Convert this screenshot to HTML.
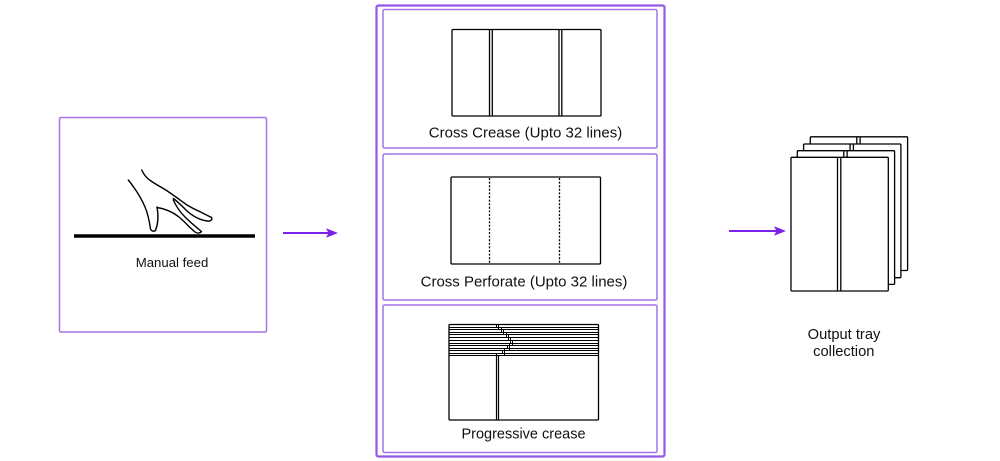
<!DOCTYPE html>
<html>
<head>
<meta charset="utf-8">
<style>
  html,body{margin:0;padding:0;background:#fff;}
  svg{display:block;}
  text{font-family:"Liberation Sans",Arial,sans-serif;fill:#111;}
</style>
</head>
<body>
<svg width="1000" height="461" viewBox="0 0 1000 461" xmlns="http://www.w3.org/2000/svg">
  <rect x="0" y="0" width="1000" height="461" fill="#fff"/>

  <!-- Left box: Manual feed -->
  <rect x="59.5" y="117.5" width="207" height="214.5" rx="1.5" fill="none" stroke="#a574e6" stroke-width="1.5"/>
  <line x1="74" y1="236" x2="255" y2="236" stroke="#000" stroke-width="3.5"/>
  <g fill="none" stroke="#000" stroke-width="1.4" stroke-linecap="round" stroke-linejoin="round">
    <path d="M141.7,170 C144,175 147,178.5 151,181 C156,184.5 161,187 165,189.5 C172,194 180,200 187,205 C192,208 196,210 200,211.7 L211.5,217.5 C213,220 210,221.5 207,221 C200,220 192,216 186,210 C181,205 177,201 173.3,198.5"/>
    <path d="M173.3,200 C176,206 180,212 185,217 C190,222 196,227 201.5,231.5 C200,233.5 197,233.5 195,232 C190,228 184,221 179,217 C174,213 167,209 157,207.5"/>
    <path d="M157,207 C158.5,215 158,224 155.5,230.5 C153.5,231.8 151.5,231.2 150.5,229 C149.5,222 148,214 145,207 C142,200 138,193 133.3,186.7 C131.5,184 130,182 128.3,180"/>
  </g>
  <text x="172" y="267" font-size="13.2" text-anchor="middle">Manual feed</text>

  <!-- Arrow 1 -->
  <line x1="283" y1="233" x2="329" y2="233" stroke="#7a22e8" stroke-width="2"/>
  <path d="M338,233 L326,228.3 L328.5,233 L326,237.7 Z" fill="#7a22e8"/>

  <!-- Middle outer box -->
  <rect x="376.5" y="5.5" width="288" height="451" rx="2" fill="none" stroke="#9458e4" stroke-width="2.2"/>
  <rect x="383" y="9.5" width="274" height="138.5" rx="1.5" fill="none" stroke="#a574e6" stroke-width="1.5"/>
  <rect x="383" y="154" width="274" height="146" rx="1.5" fill="none" stroke="#a574e6" stroke-width="1.5"/>
  <rect x="383" y="305" width="274" height="147.5" rx="1.5" fill="none" stroke="#a574e6" stroke-width="1.5"/>

  <!-- Cross Crease -->
  <g fill="none" stroke="#000" stroke-width="1.3">
    <rect x="452" y="29.5" width="149" height="86.5" rx="1"/>
    <line x1="489.5" y1="29.5" x2="489.5" y2="116"/>
    <line x1="492.3" y1="29.5" x2="492.3" y2="116"/>
    <line x1="559" y1="29.5" x2="559" y2="116"/>
    <line x1="561.8" y1="29.5" x2="561.8" y2="116"/>
  </g>
  <text x="525.5" y="137.3" font-size="15" text-anchor="middle">Cross Crease (Upto 32 lines)</text>

  <!-- Cross Perforate -->
  <g fill="none" stroke="#000" stroke-width="1.3">
    <rect x="451" y="177" width="149.5" height="87" rx="1"/>
  </g>
  <g stroke="#000" stroke-width="1.3" stroke-dasharray="2,1.6">
    <line x1="489.5" y1="178" x2="489.5" y2="263.5"/>
    <line x1="559.5" y1="178" x2="559.5" y2="263.5"/>
  </g>
  <text x="524" y="286.7" font-size="15" text-anchor="middle">Cross Perforate (Upto 32 lines)</text>

  <!-- Progressive crease -->
  <g fill="none" stroke="#000" stroke-width="1">
    <rect x="449" y="324.5" width="149.5" height="95.5" rx="1" stroke-width="1.3"/>
    <!-- strip bottoms / tops -->
    <line x1="449" y1="327.5" x2="598.5" y2="327.5"/>
    <line x1="449" y1="329.5" x2="598.5" y2="329.5"/>
    <line x1="449" y1="332.5" x2="598.5" y2="332.5"/>
    <line x1="449" y1="334.5" x2="598.5" y2="334.5"/>
    <line x1="449" y1="337.5" x2="598.5" y2="337.5"/>
    <line x1="449" y1="340.5" x2="598.5" y2="340.5"/>
    <line x1="449" y1="343.5" x2="598.5" y2="343.5"/>
    <line x1="449" y1="345.5" x2="598.5" y2="345.5"/>
    <line x1="449" y1="348.5" x2="598.5" y2="348.5"/>
    <line x1="449" y1="350.5" x2="598.5" y2="350.5"/>
    <line x1="449" y1="353.5" x2="598.5" y2="353.5"/>
    <line x1="449" y1="355.5" x2="598.5" y2="355.5"/>
    <!-- crease offsets per strip -->
    <line x1="496.5" y1="324.5" x2="496.5" y2="327.5"/><line x1="498.5" y1="324.5" x2="498.5" y2="329.5"/>
    <line x1="501.5" y1="327.5" x2="501.5" y2="332.5"/><line x1="503.5" y1="329.5" x2="503.5" y2="334.5"/>
    <line x1="506.5" y1="332.5" x2="506.5" y2="337.5"/><line x1="508.5" y1="334.5" x2="508.5" y2="340.5"/>
    <line x1="510.5" y1="337.5" x2="510.5" y2="343.5"/><line x1="512.5" y1="340.5" x2="512.5" y2="345.5"/>
    <line x1="507.5" y1="345.5" x2="507.5" y2="348.5"/><line x1="509.5" y1="343.5" x2="509.5" y2="350.5"/>
    <line x1="502.5" y1="350.5" x2="502.5" y2="353.5"/><line x1="504.5" y1="348.5" x2="504.5" y2="355.5"/>
    <!-- bottom section crease -->
    <line x1="496.5" y1="353.5" x2="496.5" y2="420" stroke-width="1.2"/>
    <line x1="498.5" y1="355.5" x2="498.5" y2="420" stroke-width="1.2"/>
  </g>
  <text x="523.5" y="438.7" font-size="14.5" text-anchor="middle">Progressive crease</text>

  <!-- Arrow 2 -->
  <line x1="729" y1="231" x2="777" y2="231" stroke="#7a22e8" stroke-width="2"/>
  <path d="M786,231 L774,226.3 L776.5,231 L774,235.7 Z" fill="#7a22e8"/>

  <!-- Output stack (back to front) -->
  <g fill="#fff" stroke="#000" stroke-width="1.3">
    <g transform="translate(19.3,-20.5)">
      <rect x="791" y="157.3" width="97.3" height="133.7" rx="1"/>
      <line x1="837.5" y1="157.3" x2="837.5" y2="291"/>
      <line x1="840.8" y1="157.3" x2="840.8" y2="291"/>
    </g>
    <g transform="translate(12.6,-13.3)">
      <rect x="791" y="157.3" width="97.3" height="133.7" rx="1"/>
      <line x1="837.5" y1="157.3" x2="837.5" y2="291"/>
      <line x1="840.8" y1="157.3" x2="840.8" y2="291"/>
    </g>
    <g transform="translate(6.3,-6.6)">
      <rect x="791" y="157.3" width="97.3" height="133.7" rx="1"/>
      <line x1="837.5" y1="157.3" x2="837.5" y2="291"/>
      <line x1="840.8" y1="157.3" x2="840.8" y2="291"/>
    </g>
    <g>
      <rect x="791" y="157.3" width="97.3" height="133.7" rx="1"/>
      <line x1="837.5" y1="157.3" x2="837.5" y2="291"/>
      <line x1="840.8" y1="157.3" x2="840.8" y2="291"/>
    </g>
  </g>
  <text x="844" y="339" font-size="14.7" text-anchor="middle">Output tray</text>
  <text x="843.8" y="356" font-size="14.7" text-anchor="middle">collection</text>
</svg>
</body>
</html>
